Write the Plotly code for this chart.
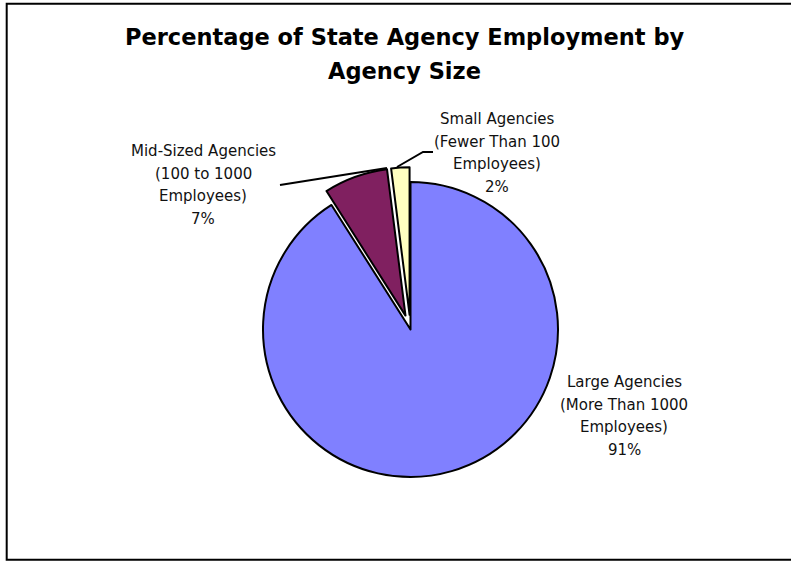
import plotly.graph_objects as go

# Share of state agency employment by agency size
categories = [
    "Large Agencies (More Than 1000 Employees)",
    "Mid-Sized Agencies (100 to 1000 Employees)",
    "Small Agencies (Fewer Than 100 Employees)",
]
values = [91, 7, 2]
label_lines = [
    ["Large Agencies", "(More Than 1000", "Employees)"],
    ["Mid-Sized Agencies", "(100 to 1000", "Employees)"],
    ["Small Agencies", "(Fewer Than 100", "Employees)"],
]
colors = ["#8080FF", "#802060", "#FFFFC0"]
pulls = [0.0, 0.1, 0.1]
title_lines = ["Percentage of State Agency Employment by", "Agency Size"]

W, H = 791, 561
FONT = "DejaVu Sans"


def px(x):
    return x / W


def py(y):
    return 1 - y / H


fig = go.Figure(
    go.Pie(
        labels=categories,
        values=values,
        sort=False,
        direction="clockwise",
        rotation=0,
        pull=pulls,
        textinfo="none",
        marker=dict(colors=colors, line=dict(color="black", width=2)),
        domain=dict(x=[248.25 / W, 572.75 / W], y=[69.25 / H, 393.75 / H]),
        showlegend=False,
    )
)

annotations = []
# two-line chart title
for text, y in zip(title_lines, [37, 71]):
    annotations.append(dict(
        text=f"<b>{text}</b>", x=px(404), y=py(y), xref="paper", yref="paper",
        xanchor="center", yanchor="middle", showarrow=False,
        font=dict(family=FONT, size=22.5, color="black"),
    ))

# slice labels: name lines followed by the percentage
label_anchor = [(624, 382), (203, 151), (497, 119)]
line_step = 22.7
total = sum(values)
for lines, v, (cx, y0) in zip(label_lines, values, label_anchor):
    rows = lines + [f"{round(100 * v / total)}%"]
    for i, row in enumerate(rows):
        annotations.append(dict(
            text=row, x=px(cx), y=py(y0 + i * line_step), xref="paper", yref="paper",
            xanchor="center", yanchor="middle", showarrow=False,
            font=dict(family=FONT, size=15, color="#111111"),
        ))

shapes = [
    # chart frame
    dict(type="rect", xref="paper", yref="paper",
         x0=px(6.7), x1=1.02, y0=py(559.7), y1=py(3.7),
         line=dict(color="black", width=2), fillcolor="rgba(0,0,0,0)"),
    # leader line for the mid-sized slice
    dict(type="path", xref="paper", yref="paper",
         path=f"M {px(280)},{py(185)} L {px(387)},{py(168)}",
         line=dict(color="black", width=2)),
    # leader line for the small slice
    dict(type="path", xref="paper", yref="paper",
         path=f"M {px(397)},{py(167)} L {px(423)},{py(152)} L {px(433)},{py(152)}",
         line=dict(color="black", width=2)),
]

fig.update_layout(
    width=W, height=H,
    margin=dict(l=0, r=0, t=0, b=0),
    paper_bgcolor="white", plot_bgcolor="white",
    annotations=annotations, shapes=shapes,
)

fig.write_html("out.html")
